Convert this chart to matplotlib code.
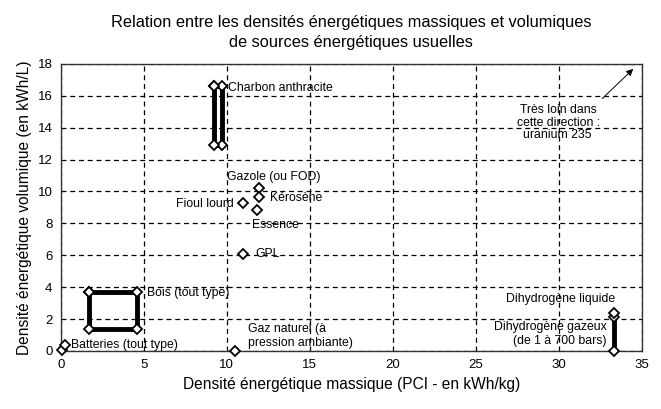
import matplotlib
matplotlib.use("Agg")
import matplotlib.pyplot as plt

plt.rcParams['font.family'] = ['Liberation Sans', 'DejaVu Sans']

# densite massique (kWh/kg) / volumique (kWh/L)
charbon_x = [9.2, 9.7, 9.7, 9.2, 9.2]
charbon_y = [16.6, 16.6, 12.9, 12.9, 16.6]
bois_x = [1.7, 4.6, 4.6, 1.7, 1.7]
bois_y = [3.7, 3.7, 1.4, 1.4, 3.7]
batteries_x = [0.05, 0.25]
batteries_y = [0.05, 0.35]
h2_gaz_x = [33.3, 33.3]
h2_gaz_y = [0.0, 2.15]
h2_liq_x = [33.3]
h2_liq_y = [2.4]

liquides = ['Gazole', 'Kérosène', 'Fioul lourd', 'Essence', 'GPL', 'Gaz naturel']
liquides_x = [11.95, 11.95, 10.95, 11.8, 10.95, 10.5]
liquides_y = [10.2, 9.65, 9.25, 8.85, 6.05, 0.02]

labels = [
    ("Charbon anthracite", 10.1, 16.5, 'left'),
    ("Gazole (ou FOD)", 10.0, 10.9, 'left'),
    ("Kérosène", 12.6, 9.6, 'left'),
    ("Fioul lourd", 10.4, 9.2, 'right'),
    ("Essence", 11.5, 7.9, 'left'),
    ("GPL", 11.7, 6.1, 'left'),
    ("Bois (tout type)", 5.2, 3.6, 'left'),
    ("Batteries (tout type)", 0.6, 0.4, 'left'),
    ("Gaz naturel (à\npression ambiante)", 11.3, 0.95, 'left'),
    ("Dihydrogène liquide", 33.4, 3.25, 'right'),
    ("Dihydrogène gazeux\n(de 1 à 700 bars)", 32.9, 1.05, 'right'),
]

mk = dict(marker='D', markersize=5.5, markerfacecolor='white',
          markeredgecolor='black', markeredgewidth=1.3, color='black',
          clip_on=False, zorder=3)

fig = plt.figure(figsize=(6.61, 4.09), dpi=100)
ax = fig.add_axes([0.092, 0.142, 0.879, 0.702])

ax.plot(charbon_x, charbon_y, lw=3.5, **mk)
ax.plot(bois_x, bois_y, lw=3.5, **mk)
ax.plot(batteries_x, batteries_y, lw=1, **mk)
ax.plot(h2_gaz_x, h2_gaz_y, lw=3.5, **mk)
ax.plot(h2_liq_x, h2_liq_y, lw=0, **mk)
ax.plot(liquides_x, liquides_y, lw=0, **mk)

for txt, x, y, ha in labels:
    ax.text(x, y, txt, ha=ha, va='center', fontsize=8.8, multialignment=ha)

ax.annotate("", xy=(34.6, 17.8), xytext=(32.5, 15.7),
            arrowprops=dict(arrowstyle='-|>', color='black', lw=0.7,
                            mutation_scale=10))
ax.text(32.5, 14.3, "Très loin dans\ncette direction :\nuranium 235 ",
        ha='right', va='center', fontsize=8.8, multialignment='center',
        linespacing=1.05)

ax.set_xlim(0, 35)
ax.set_ylim(0, 18)
ax.set_xticks(range(0, 36, 5))
ax.set_yticks(range(0, 19, 2))
ax.tick_params(length=0, labelsize=9.5, pad=6)
ax.grid(True, color='black', linestyle=(0, (4, 3)), lw=0.9)
for s in ax.spines.values():
    s.set_color('#333333')
    s.set_linewidth(1)

ax.set_xlabel("Densité énergétique massique (PCI - en kWh/kg)", fontsize=11.2, labelpad=4)
ax.set_ylabel("Densité énergétique volumique (en kWh/L)", fontsize=11.2, labelpad=4)
ax.set_title("Relation entre les densités énergétiques massiques et volumiques\n"
             "de sources énergétiques usuelles", fontsize=11.8, linespacing=1.4, pad=12)

fig.savefig("out.png", dpi=100)
